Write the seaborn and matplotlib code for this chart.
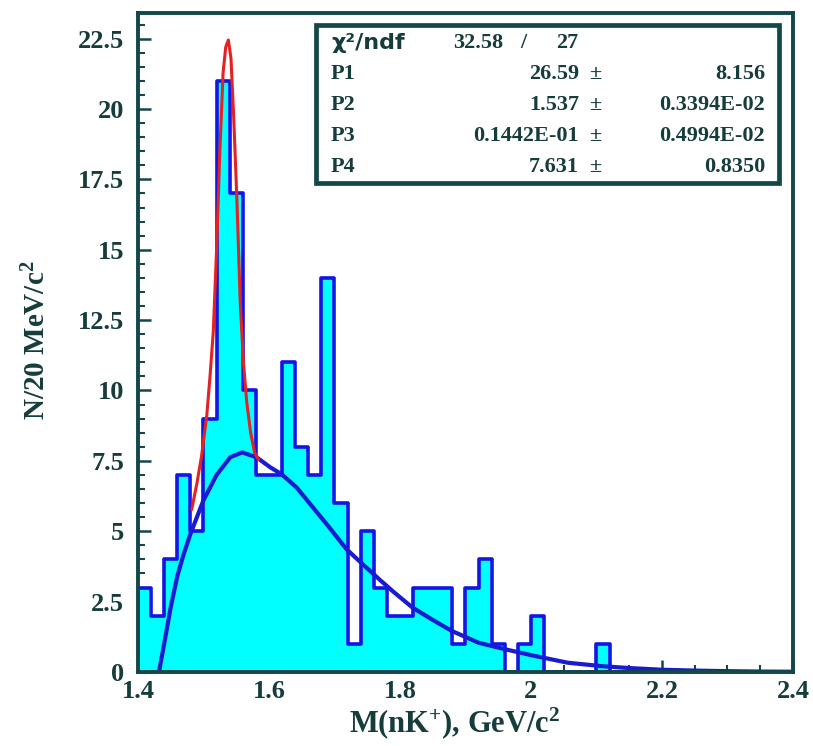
import numpy as np
import pandas as pd
import matplotlib
matplotlib.use("Agg")
import matplotlib.pyplot as plt
from matplotlib.ticker import MultipleLocator, FuncFormatter
from matplotlib.patches import Rectangle
import seaborn as sns

# ---- data ----
bin_edges_lo = 1.40
bin_width = 0.02
counts = [3, 2, 4, 7, 5, 9, 21, 17, 10, 7,
          7, 11, 8, 7, 14, 6, 1, 5, 3, 2,
          2, 3, 3, 3, 1, 3, 4, 1, 0, 1,
          2, 0, 0, 0, 0, 1, 0, 0, 0, 0,
          0, 0, 0, 0, 0, 0, 0, 0, 0, 0]

bg_x = [1.432, 1.440, 1.450, 1.460, 1.470, 1.480, 1.490, 1.500, 1.520, 1.541,
        1.559, 1.581, 1.602, 1.619, 1.642, 1.667, 1.692, 1.718, 1.743, 1.768,
        1.790, 1.819, 1.850, 1.879, 1.920, 1.960, 2.006, 2.056, 2.107, 2.150,
        2.200, 2.250, 2.300, 2.350, 2.400]
bg_y = [0.0, 1.0, 2.3, 3.4, 4.2, 4.9, 5.5, 6.1, 7.0, 7.63,
        7.80, 7.63, 7.27, 7.03, 6.56, 5.85, 5.14, 4.37, 3.83, 3.30,
        2.85, 2.29, 1.85, 1.46, 1.04, 0.81, 0.57, 0.33, 0.21, 0.14,
        0.08, 0.05, 0.03, 0.015, 0.01]

peak_x = [1.482, 1.490, 1.497, 1.505, 1.510, 1.515, 1.520, 1.525, 1.530, 1.534,
          1.538, 1.542, 1.546, 1.551, 1.556, 1.561, 1.566, 1.572, 1.578, 1.584]
peak_y = [5.77, 6.7, 7.66, 9.1, 10.5, 12.1, 15.0, 18.5, 21.3, 22.2,
          22.45, 21.8, 19.8, 16.8, 13.2, 11.0, 9.6, 8.5, 7.8, 7.55]

stat_names = ["P1", "P2", "P3", "P4"]
stat_vals = ["26.59", "1.537", "0.1442E-01", "7.631"]
stat_errs = ["8.156", "0.3394E-02", "0.4994E-02", "0.8350"]
chi2_txt = ["32.58", "/", "27"]

x_ticks = [1.4, 1.6, 1.8, 2.0, 2.2, 2.4]
y_ticks = [0, 2.5, 5, 7.5, 10, 12.5, 15, 17.5, 20, 22.5]

# ---- styling ----
sns.set_theme(style="white")
plt.rcParams["font.family"] = ["Liberation Serif", "DejaVu Sans"]
plt.rcParams["font.weight"] = "bold"
plt.rcParams["mathtext.fontset"] = "custom"
plt.rcParams["mathtext.rm"] = "Liberation Serif:bold"
plt.rcParams["mathtext.it"] = "Liberation Serif:bold"
plt.rcParams["mathtext.bf"] = "Liberation Serif:bold"

TXT = "#163c3c"
FRAME = "#124848"

fig = plt.figure(figsize=(8.13, 7.46), dpi=100)
ax = fig.add_axes([0.1697, 0.0992, 0.8057, 0.8834])

n_bins = len(counts)
centers = [bin_edges_lo + bin_width * (i + 0.5) for i in range(n_bins)]
df = pd.DataFrame({"m": centers, "n": counts})

sns.histplot(data=df, x="m", weights="n", bins=n_bins,
             binrange=(bin_edges_lo, bin_edges_lo + bin_width * n_bins),
             element="step", fill=True, color="#00ffff", alpha=1.0,
             edgecolor="#1414e6", linewidth=2.6, ax=ax)

sns.lineplot(x=bg_x, y=bg_y, color="#1a1ad2", linewidth=3.0, sort=False,
             estimator=None, ax=ax)
sns.lineplot(x=peak_x, y=peak_y, color="#e42222", linewidth=2.2, sort=False,
             estimator=None, ax=ax)

ax.set_xlim(1.4, 2.4)
ax.set_ylim(0, 23.41)

for side in ["left", "right", "top", "bottom"]:
    ax.spines[side].set_visible(True)
    ax.spines[side].set_color(FRAME)
    ax.spines[side].set_linewidth(2.8)

ax.set_xticks(x_ticks)
ax.set_yticks(y_ticks)
ax.xaxis.set_minor_locator(MultipleLocator(0.05))
ax.yaxis.set_minor_locator(MultipleLocator(0.5))
fmt = FuncFormatter(lambda v, p: f"{v:g}")
ax.xaxis.set_major_formatter(fmt)
ax.yaxis.set_major_formatter(fmt)
ax.tick_params(axis="both", which="major", direction="in", length=9,
               width=1.8, color=FRAME, labelsize=19, labelcolor=TXT,
               bottom=True, left=True, top=False, right=False)
ax.tick_params(axis="both", which="minor", direction="in", length=5,
               width=1.5, color=FRAME, bottom=True, left=True, top=False,
               right=False)
ax.tick_params(axis="x", which="major", pad=6)
ax.tick_params(axis="y", which="major", pad=10)
for lab in ax.get_xticklabels() + ax.get_yticklabels():
    lab.set_fontweight("bold")

ax.set_xlabel("M(nK$^{+}$), GeV/c$^{2}$", fontsize=22, fontweight="bold",
              color=TXT)
ax.set_ylabel("N/20 MeV/c$^{2}$", fontsize=21, fontweight="bold",
              color=TXT)
ax.xaxis.set_label_coords(0.484, -0.05)
ax.yaxis.set_label_coords(-0.132, 0.504)
ax.grid(False)

# ---- stats box ----
box = Rectangle((0.272, 0.742), 0.7066, 0.240, transform=ax.transAxes,
                facecolor="white", edgecolor=FRAME, linewidth=3.4, zorder=5)
ax.add_patch(box)

def px_to_ax(px, py):
    return ((px - 138) / 655.0, (672 - py) / 659.0)

tkw = dict(transform=ax.transAxes, color=TXT, fontsize=16, fontweight="bold",
           va="center", zorder=6)
x0, y0 = px_to_ax(331, 43)
ax.text(x0, y0, "χ²/ndf", family="DejaVu Sans", ha="left", **tkw)
xa, _ = px_to_ax(503, 43)
ax.text(xa, y0, chi2_txt[0], ha="right", **tkw)
xb, _ = px_to_ax(523, 43)
ax.text(xb, y0, chi2_txt[1], ha="center", **tkw)
xc, _ = px_to_ax(578, 43)
ax.text(xc, y0, chi2_txt[2], ha="right", **tkw)

row_y = [74, 105, 136, 167]
for name, val, err, ry in zip(stat_names, stat_vals, stat_errs, row_y):
    xl, yy = px_to_ax(331, ry)
    ax.text(xl, yy, name, ha="left", **tkw)
    xv, _ = px_to_ax(579, ry)
    ax.text(xv, yy, val, ha="right", **tkw)
    xp, _ = px_to_ax(595, ry)
    ax.text(xp, yy, "±", ha="center", **tkw)
    xe, _ = px_to_ax(765, ry)
    ax.text(xe, yy, err, ha="right", **tkw)

fig.savefig("out.png", dpi=100)
